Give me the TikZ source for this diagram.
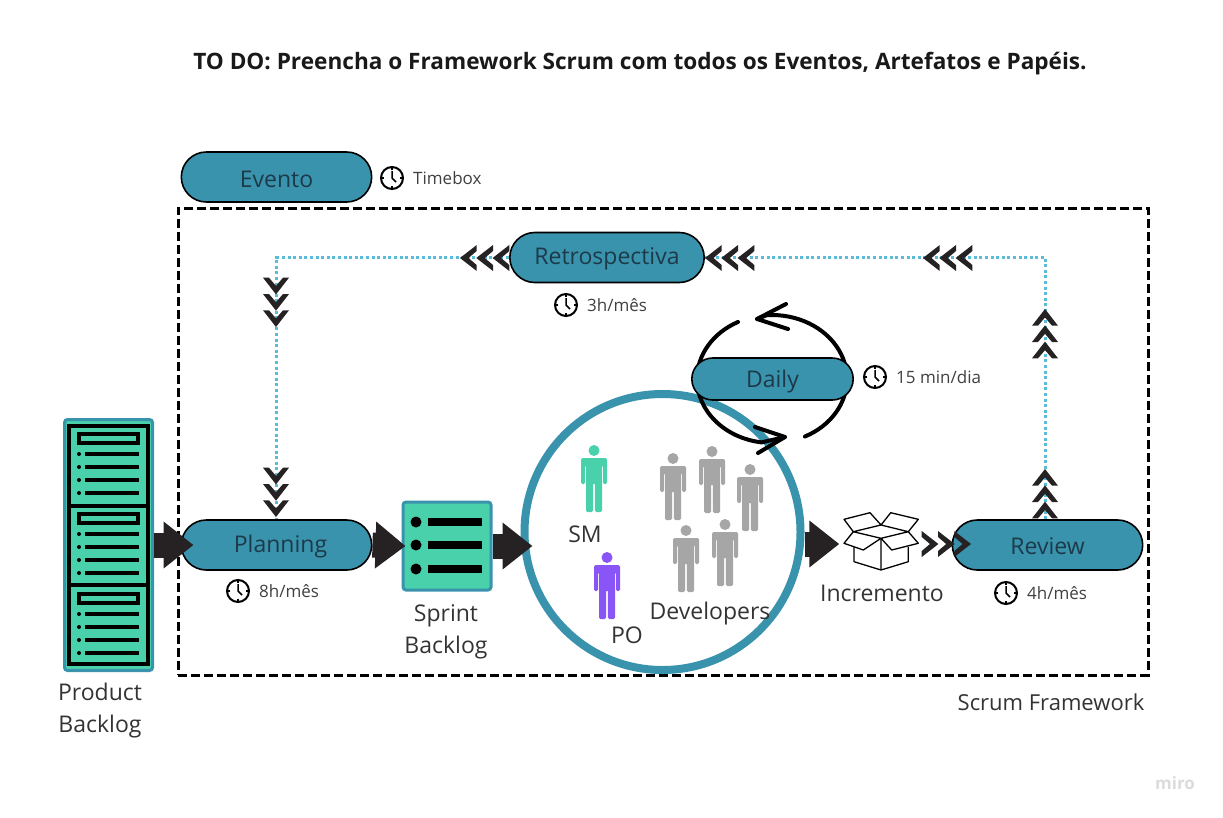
\documentclass[tikz,border=0pt]{standalone}
\usepackage{fontspec}
\setmainfont{Open Sans}
\usetikzlibrary{arrows.meta,shapes.misc}
\definecolor{teal}{HTML}{3A93AD}
\definecolor{mint}{HTML}{48D1AA}
\definecolor{violet}{HTML}{8A55F7}
\definecolor{grayman}{HTML}{A6A6A6}
\definecolor{ink}{HTML}{262224}
\definecolor{dots}{HTML}{5BBCD9}
\definecolor{pilltext}{HTML}{1C3A49}
\tikzset{
	pill/.style = {draw, line width = 1.6, fill = teal, rounded rectangle, text = pilltext, font = \fontsize{23}{28}\selectfont},
	caption/.style = {text = black!80, align = center, font = \fontsize{23}{32}\selectfont},
	timetext/.style = {text = black!75, font = \fontsize{17}{20}\selectfont, inner sep = 0, label distance = 9},
	clock/.style = {draw, circle, line width = 2, minimum size = 22, inner sep = 0, path picture = {
		\draw[line width = 1.5] ([yshift = 7]path picture bounding box.center) -- (path picture bounding box.center) -- ++(4,-4);
		\foreach \a in {0,90,180,270} \draw[line width = 1.5] (path picture bounding box.center) ++(\a:8) -- ++(\a:3);
	}},
	fatarrow/.style = {draw = ink, line width = 25, -{Triangle[length = 30pt, width = 45pt]}},
	dotline/.style = {draw = dots, line width = 3, dash pattern = on 3pt off 2.6pt},
	loopline/.style = {line width = 4, line cap = round, line join = round},
	chevrons/.pic = {
		\foreach \i in {0,1,2}
			\fill[ink, xshift = -16.3*\i] (0,0) -- (-16.7,13) -- (-16.7,7) -- (-8.5,0) -- (-16.7,-7) -- (-16.7,-13) -- cycle;
	},
	person/.pic = {
		\fill[pic actions] (0,-5.5) circle (5.5);
		\fill[pic actions, rounded corners = 1.5] (-13,-39) -- (-13,-13) -- (13,-13) -- (13,-39) -- (9,-39) -- (9,-20) -- (8,-20) -- (8,-67) -- (0.8,-67) -- (0.8,-38) -- (-0.8,-38) -- (-0.8,-67) -- (-8,-67) -- (-8,-20) -- (-9,-20) -- (-9,-39) -- cycle;
	},
}
\begin{document}
\begin{tikzpicture}[x = 1pt, y = 1pt]
	\useasboundingbox (0,0) rectangle (1223,-817);
	\node [font = \fontsize{22.6}{27}\selectfont\bfseries, text = black!90] (title) at (640,-64) {TO DO: Preencha o Framework Scrum com todos os Eventos, Artefatos e Papéis.};
	\node [draw, line width = 3, dash pattern = on 9pt off 4pt, minimum width = 970, minimum height = 467] (frame) at (663,-441.5) {};
	\node [caption, font = \fontsize{22}{32}\selectfont] (framename) at (1051,-702) {Scrum Framework};
	\node [text = black!14, font = \fontsize{17}{20}\selectfont\bfseries] (miro) at (1175,-783) {miro};

	\node [pill, text height = 20, text depth = 0, minimum width = 197, minimum height = 50] (evento) at (276.5,-177) {Evento};
	\node [clock, label = {[timetext]right:Timebox}] (clockevento) at (392,-178) {};

	\node [draw = teal, line width = 3, fill = mint, rounded corners = 3, minimum width = 88, minimum height = 251] (product) at (108.5,-545) {};
	\draw[line width = 4] (69,-426) rectangle (148,-664) (69,-506) -- (148,-506) (69,-585) -- (148,-585);
	\foreach \y in {434,514,594} {
		\draw[line width = 3.5] (79,-\y) rectangle (138,-\y-9);
		\foreach \d in {20,33,46,59} {
			\fill (79,-\y-\d) circle (2);
			\draw[line width = 3.5] (85,-\y-\d) -- (139,-\y-\d);
		}
	}
	\node [caption, anchor = north] (productname) at (100,-679) {Product\\Backlog};

	\node [draw = teal, line width = 3, fill = mint, rounded corners = 3, minimum size = 88] (sprint) at (447,-546) {};
	\foreach \y in {522,545,569} {
		\fill (416,-\y) circle (5.5);
		\draw[line width = 7.5] (428,-\y) -- (482,-\y);
	}
	\node [caption, anchor = north] (sprintname) at (446,-601) {Sprint\\Backlog};

	\node [draw = teal, line width = 8, circle, fill = white, minimum size = 276] (ring) at (662.5,-532) {};
	\draw[loopline] (772,-379) ++(117:75 and 64) arc[start angle = 117, end angle = 180, x radius = 75, y radius = 64];
	\draw[loopline] (772,-379) ++(0:75 and 64) arc[start angle = 0, end angle = 94, x radius = 75, y radius = 64] -- (757,-319);
	\draw[loopline] (786,-304) -- (757,-319) -- (788,-329);
	\draw[loopline] (772,-379) ++(180:75 and 64) arc[start angle = 180, end angle = 262, x radius = 75, y radius = 64] -- (785,-437);
	\draw[loopline] (755,-427) -- (785,-437) -- (758,-453);
	\draw[loopline] (772,-379) ++(296:75 and 64) arc[start angle = 296, end angle = 360, x radius = 75, y radius = 64];

	\pic [fill = mint] (sm) at (594,-445) {person};
	\pic [fill = violet] (po) at (607,-552) {person};
	\pic [fill = grayman] (dev1) at (673,-453) {person};
	\pic [fill = grayman] (dev2) at (712,-446) {person};
	\pic [fill = grayman] (dev3) at (750,-464) {person};
	\pic [fill = grayman] (dev4) at (686,-525) {person};
	\pic [fill = grayman] (dev5) at (725,-519) {person};
	\node [caption] (smname) at (585,-534) {SM};
	\node [caption] (poname) at (627,-635) {PO};
	\node [caption] (devname) at (710,-614) {Developers};

	\node [minimum width = 75, minimum height = 60, inner sep = 0] (box) at (881,-544) {};
	\draw[line width = 1.3, line join = round] (853.3,-531.7) -- (844,-519.3) -- (870,-512.7) -- (881,-525) -- (890.7,-512.7) -- (918.3,-519.3) -- (908.3,-531.7) -- (881,-525) -- (853.3,-531.7) -- (881,-538.3) -- (908.3,-531.7) -- (918.3,-543.3) -- (891.7,-550) -- (881,-538.3) -- (863.3,-550) -- (844,-543.3) -- cycle;
	\draw[line width = 1.3, line join = round] (854,-547) -- (854,-561.7) -- (881,-570) -- (908.3,-561.7) -- (908.3,-547) (881,-538.3) -- (881,-570);
	\node [caption] (boxname) at (882,-593) {Incremento};

	\node [pill, text height = 17, text depth = 3, minimum width = 197, minimum height = 50] (planning) at (276.5,-545) {\hspace*{8pt}Planning};
	\node [clock, label = {[timetext]right:8h/mês}] (clockplanning) at (238,-591) {};
	\node [pill, text height = 18, text depth = 0, minimum width = 197, minimum height = 50] (review) at (1047.5,-545) {Review};
	\node [clock, label = {[timetext]right:4h/mês}] (clockreview) at (1006,-593) {};
	\node [pill, text height = 16.5, text depth = 3.5, minimum width = 201, minimum height = 50] (retro) at (607,-257.5) {Retrospectiva};
	\node [clock, label = {[timetext]right:3h/mês}] (clockretro) at (566,-305) {};
	\node [pill, text height = 18, text depth = 2, minimum width = 168, minimum height = 42] (daily) at (772.5,-379) {Daily};
	\node [clock, label = {[timetext]right:15 min/dia}] (clockdaily) at (875,-377) {};

	\draw[fatarrow] (product.east) -- ([xshift = 13]planning.west);
	\draw[fatarrow] (planning.east) -- ([xshift = 4]sprint.west);
	\draw[fatarrow] (sprint.east) -- ([xshift = 12]ring.west |- sprint.east);
	\draw[fatarrow] (ring.east |- box.west) -- ([xshift = -4]box.west);

	\draw[dotline] ([xshift = -2]review.north) |- (retro.east);
	\draw[dotline] (retro.west) -| (planning.north);
	\foreach \x in {460,705,923} \pic [rotate = 180] at (\x,-258) {chevrons};
	\foreach \y in {309,469} \pic [rotate = 90] at (1045,-\y) {chevrons};
	\foreach \y in {327,517} \pic [rotate = -90] at (276,-\y) {chevrons};
	\pic at (971,-544) {chevrons};
\end{tikzpicture}
\end{document}
